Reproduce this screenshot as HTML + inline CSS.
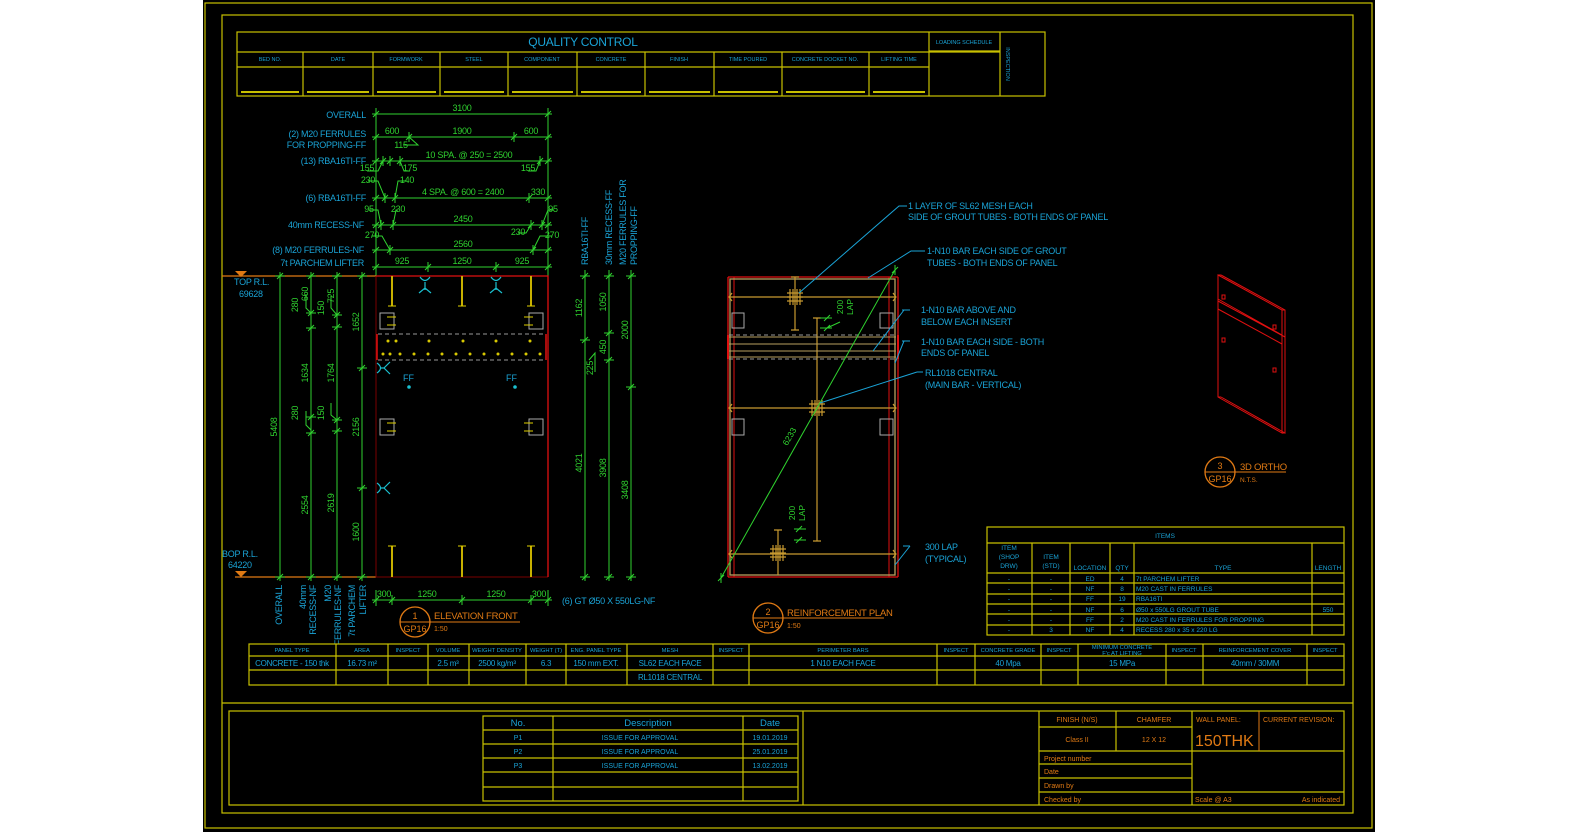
<!DOCTYPE html>
<html><head><meta charset="utf-8"><style>
html,body{margin:0;padding:0;background:#fff}
svg{display:block}
text{font-family:"Liberation Sans",sans-serif}
.c{fill:#1aa3d6}.g{fill:#2fd22f}.o{fill:#e07a14}.y{fill:#d0c800}
.n{letter-spacing:-0.25px}
</style></head><body>
<svg width="1579" height="836" viewBox="0 0 1579 836" xmlns="http://www.w3.org/2000/svg">
<defs>
<g id="t" stroke="#2fd22f" stroke-width="1"><path d="M-3 3L3-3M0-5V5"/></g>
<g id="th" stroke="#2fd22f" stroke-width="1"><path d="M-3 3L3-3M-5 0H5"/></g>
</defs>
<rect x="203" y="0" width="1172" height="832" fill="#000"/>
<g fill="none" stroke="#c8c000" stroke-width="1.2">
<rect x="205" y="3" width="1167" height="825"/>
<rect x="222" y="15" width="1131" height="798"/>
<rect x="237" y="32" width="808" height="64"/>
<path d="M237 52H1000M237 67H929M929 51H1000"/>
<path d="M303 52V96M373 52V96M440 52V96M508 52V96M577 52V96M645 52V96M714 52V96M782 52V96M869 52V96M929 32V96M1000 32V96"/>
<path d="M241 92H299M307 92H369M377 92H436M444 92H504M512 92H573M581 92H641M649 92H710M718 92H778M786 92H865M873 92H925" stroke-width="2"/>
</g>
<text x="583" y="46" class="c n" font-size="12" text-anchor="middle">QUALITY CONTROL</text>
<g class="c" font-size="5.5" text-anchor="middle">
<text x="270" y="61">BED NO.</text><text x="338" y="61">DATE</text><text x="406" y="61">FORMWORK</text><text x="474" y="61">STEEL</text><text x="542" y="61">COMPONENT</text><text x="611" y="61">CONCRETE</text><text x="679" y="61">FINISH</text><text x="748" y="61">TIME POURED</text><text x="825" y="61">CONCRETE DOCKET NO.</text><text x="899" y="61">LIFTING TIME</text><text x="964" y="44">LOADING SCHEDULE</text>
<text transform="translate(1006,64) rotate(90)">INSPECTION</text>
</g>

<g stroke="#2fd22f" stroke-width="1" fill="none">
<path d="M372 114H552M372 137H552M372 161H552M372 198H552M372 225H552M372 250H552M372 267H552"/>
<path d="M376 108V280M548 108V280"/>
<path d="M403 145H418L409 137M367 171H378L383 161M410 171H404L400 161M528 171H536L540 161M368 181H378L385 198M407 181H398L395 198M369 210H378L381 225M398 210H396L393 225M518 233H526L531 225M554 210H548L542 225M372 236H382L390 250M552 236H540L533 250"/>
</g>
<g>
<use href="#t" x="376" y="114"/><use href="#t" x="548" y="114"/>
<use href="#t" x="376" y="137"/><use href="#t" x="409" y="137"/><use href="#t" x="514" y="137"/><use href="#t" x="548" y="137"/>
<use href="#t" x="376" y="161"/><use href="#t" x="383" y="161"/><use href="#t" x="390" y="161"/><use href="#t" x="400" y="161"/><use href="#t" x="540" y="161"/><use href="#t" x="548" y="161"/>
<use href="#t" x="376" y="198"/><use href="#t" x="385" y="198"/><use href="#t" x="395" y="198"/><use href="#t" x="529" y="198"/><use href="#t" x="548" y="198"/>
<use href="#t" x="376" y="225"/><use href="#t" x="381" y="225"/><use href="#t" x="393" y="225"/><use href="#t" x="531" y="225"/><use href="#t" x="542" y="225"/><use href="#t" x="548" y="225"/>
<use href="#t" x="376" y="250"/><use href="#t" x="390" y="250"/><use href="#t" x="533" y="250"/><use href="#t" x="548" y="250"/>
<use href="#t" x="376" y="267"/><use href="#t" x="428" y="267"/><use href="#t" x="496" y="267"/><use href="#t" x="548" y="267"/>
</g>
<g class="g n" font-size="9" text-anchor="middle">
<text x="462" y="111">3100</text>
<text x="392" y="134">600</text><text x="462" y="134">1900</text><text x="531" y="134">600</text><text x="401" y="148">115</text>
<text x="469" y="158">10 SPA. @ 250 = 2500</text><text x="367" y="171">155</text><text x="410" y="171">175</text><text x="528" y="171">155</text>
<text x="368" y="183">230</text><text x="407" y="183">140</text><text x="463" y="195">4 SPA. @ 600 = 2400</text><text x="538" y="195">330</text>
<text x="369" y="212">95</text><text x="398" y="212">230</text><text x="463" y="222">2450</text><text x="518" y="235">230</text><text x="553" y="212">95</text>
<text x="372" y="238">270</text><text x="463" y="247">2560</text><text x="552" y="238">270</text>
<text x="402" y="264">925</text><text x="462" y="264">1250</text><text x="522" y="264">925</text>
</g>
<g class="c n" font-size="9" text-anchor="end">
<text x="366" y="118">OVERALL</text><text x="366" y="137">(2) M20 FERRULES</text><text x="366" y="148">FOR PROPPING-FF</text>
<text x="366" y="164">(13) RBA16TI-FF</text><text x="366" y="201">(6) RBA16TI-FF</text><text x="364" y="228">40mm  RECESS-NF</text>
<text x="364" y="253">(8) M20 FERRULES-NF</text><text x="364" y="266">7t PARCHEM LIFTER</text>
</g>

<path d="M222 276H376M235 577H376" stroke="#e07a14" stroke-width="1.3"/>
<path d="M235 271H247L241 277Z M235 571H247L241 577Z" fill="#e07a14"/>
<g class="c n" font-size="9"><text x="234" y="285">TOP R.L.</text><text x="239" y="297">69628</text><text x="222" y="557">BOP R.L.</text><text x="228" y="568">64220</text></g>

<g stroke="#2fd22f" fill="none">
<path d="M280 272V581M311 272V581M337 272V581M362 272V581"/>
<path d="M306 294V308L311 313M306 411V425L311 430M331 296V308L337 315M331 403V415L337 420"/>
</g>
<g>
<use href="#th" x="280" y="276"/><use href="#th" x="280" y="577"/>
<use href="#th" x="311" y="276"/><use href="#th" x="311" y="313"/><use href="#th" x="311" y="328"/><use href="#th" x="311" y="417"/><use href="#th" x="311" y="433"/><use href="#th" x="311" y="577"/>
<use href="#th" x="337" y="276"/><use href="#th" x="337" y="315"/><use href="#th" x="337" y="327"/><use href="#th" x="337" y="420"/><use href="#th" x="337" y="431"/><use href="#th" x="337" y="577"/>
<use href="#th" x="362" y="276"/><use href="#th" x="362" y="368"/><use href="#th" x="362" y="488"/><use href="#th" x="362" y="577"/>
</g>
<g class="g n" font-size="9" text-anchor="middle">
<text transform="translate(277,427) rotate(-90)">5408</text>
<text transform="translate(298,305) rotate(-90)">280</text><text transform="translate(308,294) rotate(-90)">660</text>
<text transform="translate(308,373) rotate(-90)">1634</text><text transform="translate(298,413) rotate(-90)">280</text><text transform="translate(308,505) rotate(-90)">2554</text>
<text transform="translate(324,308) rotate(-90)">150</text><text transform="translate(334,296) rotate(-90)">725</text>
<text transform="translate(334,373) rotate(-90)">1764</text><text transform="translate(324,413) rotate(-90)">150</text><text transform="translate(334,503) rotate(-90)">2619</text>
<text transform="translate(359,322) rotate(-90)">1652</text><text transform="translate(359,427) rotate(-90)">2156</text><text transform="translate(359,532) rotate(-90)">1600</text>
</g>
<g class="c n" font-size="9" text-anchor="end">
<text transform="translate(282,585) rotate(-90)">OVERALL</text>
<text transform="translate(306,585) rotate(-90)">40mm</text><text transform="translate(316,585) rotate(-90)">RECESS-NF</text>
<text transform="translate(331,585) rotate(-90)">M20</text><text transform="translate(341,585) rotate(-90)">FERRULES-NF</text>
<text transform="translate(355,585) rotate(-90)">7t PARCHEM</text><text transform="translate(366,585) rotate(-90)">LIFTER</text>
</g>

<path d="M376 276V577H548" stroke="#7a0000" fill="none"/>
<path d="M376 276H548V577" stroke="#e01010" fill="none" stroke-width="1.3"/>
<path d="M377 334V360M546 334V360" stroke="#e01010" stroke-width="1.5"/>
<path d="M378 334H546M378 360H546" stroke="#999" stroke-dasharray="4 3"/>
<g stroke="#c8b000" stroke-width="2"><path d="M392 276V306M462 276V306M531 276V306M392 546V577M462 546V577M531 546V577"/></g>
<g stroke="#e0d000" stroke-width="1"><path d="M388 306H396M458 306H466M527 306H535M388 546H396M458 546H466M527 546H535"/></g>
<g fill="none" stroke="#aaa"><rect x="380" y="313" width="14" height="16"/><rect x="529" y="313" width="14" height="16"/><rect x="380" y="419" width="14" height="16"/><rect x="529" y="419" width="14" height="16"/></g>
<g stroke="#e0d000"><path d="M387 317H396M387 325H396M524 317H533M524 325H533M387 423H396M387 431H396M524 423H533M524 431H533"/></g>
<g fill="#d8c800">
<circle cx="388" cy="341" r="1.5"/><circle cx="396" cy="341" r="1.5"/><circle cx="429" cy="341" r="1.5"/><circle cx="463" cy="341" r="1.5"/><circle cx="496" cy="341" r="1.5"/><circle cx="530" cy="341" r="1.5"/>
<circle cx="383" cy="354" r="1.5"/><circle cx="390" cy="354" r="1.5"/><circle cx="400" cy="354" r="1.5"/><circle cx="414" cy="354" r="1.5"/><circle cx="428" cy="354" r="1.5"/><circle cx="442" cy="354" r="1.5"/><circle cx="456" cy="354" r="1.5"/><circle cx="470" cy="354" r="1.5"/><circle cx="484" cy="354" r="1.5"/><circle cx="498" cy="354" r="1.5"/><circle cx="512" cy="354" r="1.5"/><circle cx="526" cy="354" r="1.5"/><circle cx="540" cy="354" r="1.5"/>
</g>
<g stroke="#1ac0d0" fill="none" stroke-width="1.2">
<path d="M420 277Q425 284 430 277M425 282V290M419 293L425 288L431 293"/>
<path d="M491 277Q496 284 501 277M496 282V290M490 293L496 288L502 293"/>
<path d="M377 363Q384 368 377 373M381 368H384M390 362L384 368L390 374"/>
<path d="M377 483Q384 488 377 493M381 488H384M390 482L384 488L390 494"/>
</g>
<g class="c" font-size="9"><text x="403" y="381">FF</text><text x="506" y="381">FF</text></g>
<circle cx="409" cy="387" r="1.8" fill="#1ac0d0"/><circle cx="515" cy="387" r="1.8" fill="#1ac0d0"/>

<path d="M372 600H552M376 590V606M548 590V606M462 596V604" stroke="#2fd22f" fill="none"/>
<use href="#t" x="376" y="600"/><use href="#t" x="392" y="600"/><use href="#t" x="462" y="600"/><use href="#t" x="531" y="600"/><use href="#t" x="548" y="600"/>
<g class="g n" font-size="9" text-anchor="middle"><text x="384" y="597">300</text><text x="427" y="597">1250</text><text x="496" y="597">1250</text><text x="539" y="597">300</text></g>
<text x="562" y="604" class="c n" font-size="9">(6) GT Ø50 X 550LG-NF</text>

<g stroke="#2fd22f" fill="none"><path d="M585 270V581M609 270V581M631 270V581M589 360L595 353V372"/></g>
<use href="#th" x="585" y="276"/><use href="#th" x="585" y="340"/><use href="#th" x="585" y="577"/>
<use href="#th" x="609" y="276"/><use href="#th" x="609" y="333"/><use href="#th" x="609" y="360"/><use href="#th" x="609" y="577"/>
<use href="#th" x="631" y="276"/><use href="#th" x="631" y="387"/><use href="#th" x="631" y="577"/>
<g class="g n" font-size="9" text-anchor="middle">
<text transform="translate(582,308) rotate(-90)">1162</text><text transform="translate(582,463) rotate(-90)">4021</text><text transform="translate(593,368) rotate(-90)">225</text>
<text transform="translate(606,302) rotate(-90)">1050</text><text transform="translate(606,347) rotate(-90)">450</text><text transform="translate(606,468) rotate(-90)">3908</text>
<text transform="translate(628,330) rotate(-90)">2000</text><text transform="translate(628,490) rotate(-90)">3408</text>
</g>
<g class="c n" font-size="9">
<text transform="translate(588,265) rotate(-90)">RBA16TI-FF</text>
<text transform="translate(612,265) rotate(-90)">30mm RECESS-FF</text>
<text transform="translate(626,265) rotate(-90)">M20 FERRULES FOR</text>
<text transform="translate(637,265) rotate(-90)">PROPPING-FF</text>
</g>

<circle cx="415" cy="622" r="15" fill="none" stroke="#e07a14" stroke-width="1.3"/>
<path d="M400 622H520" stroke="#e07a14"/>
<text x="415" y="619" class="o" font-size="9" text-anchor="middle">1</text>
<text x="415" y="632" class="o" font-size="9" text-anchor="middle">GP16</text>
<text x="434" y="619" class="o n" font-size="9.5">ELEVATION FRONT</text>
<text x="434" y="631" class="o" font-size="7">1:50</text>

<path d="M728 277H898M728 277V577M898 277V577M728 577H898" stroke="#e01010" fill="none" stroke-width="1.3"/>
<path d="M734 277V577M889 277V577" stroke="#e01010" fill="none"/>
<rect x="730" y="279" width="165" height="296" fill="none" stroke="#b8a060" stroke-width="1.3"/>
<g stroke="#c89a30" fill="none" stroke-width="1.2">
<path d="M729 297H896M729 408H896M729 554H896"/>
<path d="M732 293L729 297L732 301M893 293L896 297L893 301M732 404L729 408L732 412M893 404L896 408L893 412M732 550L729 554L732 558M893 550L896 554L893 558"/>
<path d="M817 318V541M813 318H821M813 541H821M795 277V330M791 277H799M791 330H799M778 530V575M774 530H782"/>
<path d="M787 293H803M787 297H803M787 301H803M790 289V305M793 289V305M797 289V305M800 289V305"/>
<path d="M809 404H825M809 408H825M809 412H825M812 400V416M815 400V416M819 400V416M822 400V416"/>
<path d="M770 549H786M770 553H786M770 557H786M773 545V561M776 545V561M780 545V561M783 545V561"/>
</g>
<path d="M729 337H896M729 344H896M729 351H896M729 357H896" stroke="#b8a060"/>
<path d="M729 335H896M729 359H896" stroke="#999" stroke-dasharray="4 3"/>
<path d="M728 335V359M898 335V359" stroke="#e01010" stroke-width="2"/>
<g fill="none" stroke="#aaa"><rect x="732" y="313" width="12" height="15"/><rect x="880" y="313" width="13" height="15"/><rect x="732" y="419" width="12" height="16"/><rect x="880" y="419" width="13" height="16"/></g>
<path d="M721 578L895 270" stroke="#2fd22f"/>
<use href="#t" x="721" y="578"/><use href="#t" x="895" y="270"/>
<text transform="translate(792,438) rotate(-60)" class="g" font-size="8.5" text-anchor="middle">6233</text>
<g stroke="#2fd22f" fill="none"><path d="M820 318H830M820 328H830M827 328L840 322M796 529H806M796 540H806"/></g>
<use href="#th" x="827" y="318"/><use href="#th" x="827" y="328"/><use href="#th" x="799" y="529"/><use href="#th" x="799" y="540"/>
<g class="g" font-size="8.5" text-anchor="middle">
<text transform="translate(843,307) rotate(-90)">200</text><text transform="translate(853,307) rotate(-90)">LAP</text>
<text transform="translate(795,513) rotate(-90)">200</text><text transform="translate(805,513) rotate(-90)">LAP</text>
</g>
<g stroke="#1aa3d6" fill="none">
<path d="M907 206H899L799 293M925 251H911L868 278M904 310L873 351M904 341L895 363M917 372L820 403M910 546L895 565"/>
<path d="M902 341H910M902 310H910M917 372H923M903 546H910"/>
</g>
<g class="c n" font-size="9">
<text x="908" y="209">1 LAYER OF SL62 MESH EACH</text><text x="908" y="220">SIDE OF GROUT TUBES - BOTH ENDS OF PANEL</text>
<text x="927" y="254">1-N10 BAR EACH SIDE OF GROUT</text><text x="927" y="266">TUBES - BOTH ENDS OF PANEL</text>
<text x="921" y="313">1-N10 BAR ABOVE AND</text><text x="921" y="325">BELOW EACH INSERT</text>
<text x="921" y="345">1-N10 BAR EACH SIDE - BOTH</text><text x="921" y="356">ENDS OF PANEL</text>
<text x="925" y="376">RL1018 CENTRAL</text><text x="925" y="388">(MAIN BAR - VERTICAL)</text>
<text x="925" y="550">300 LAP</text><text x="925" y="562">(TYPICAL)</text>
</g>
<circle cx="768" cy="618" r="15" fill="none" stroke="#e07a14" stroke-width="1.3"/>
<path d="M753 618H884" stroke="#e07a14"/>
<text x="768" y="615" class="o" font-size="9" text-anchor="middle">2</text>
<text x="768" y="628" class="o" font-size="9" text-anchor="middle">GP16</text>
<text x="787" y="616" class="o n" font-size="9.5">REINFORCEMENT PLAN</text>
<text x="787" y="628" class="o" font-size="7">1:50</text>

<g stroke="#e01010" fill="none" stroke-width="1">
<path d="M1218 275L1282 310V433L1218 397Z"/>
<path d="M1221 275L1285 310V433L1221 397M1218 275H1221M1282 310H1285M1282 433H1285M1218 397H1221"/>
<path d="M1218 299L1282 335M1218 309L1282 344M1218 301L1285 337"/>
<rect x="1222" y="295" width="3" height="4"/><rect x="1273" y="325" width="3" height="4"/><rect x="1222" y="338" width="3" height="4"/><rect x="1273" y="368" width="3" height="4"/>
</g>
<circle cx="1220" cy="472" r="15" fill="none" stroke="#e07a14" stroke-width="1.3"/>
<path d="M1205 472H1286" stroke="#e07a14"/>
<text x="1220" y="469" class="o" font-size="9" text-anchor="middle">3</text>
<text x="1220" y="482" class="o" font-size="9" text-anchor="middle">GP16</text>
<text x="1240" y="470" class="o n" font-size="9.5">3D ORTHO</text>
<text x="1240" y="482" class="o" font-size="6.5">N.T.S.</text>

<g fill="none" stroke="#c8c000" stroke-width="1.2">
<rect x="987" y="527" width="357" height="108"/>
<path d="M987 543H1344M987 573H1344M987 583H1344M987 594H1344M987 604H1344M987 614H1344M987 625H1344"/>
<path d="M1032 543V635M1070 543V635M1110 543V635M1134 543V635M1312 543V635"/>
</g>
<g class="c" font-size="6.5" text-anchor="middle">
<text x="1165" y="538">ITEMS</text>
<text x="1009" y="550">ITEM</text><text x="1009" y="559">(SHOP</text><text x="1009" y="568">DRW)</text>
<text x="1051" y="559">ITEM</text><text x="1051" y="568">(STD)</text>
<text x="1090" y="570">LOCATION</text><text x="1122" y="570">QTY</text><text x="1223" y="570">TYPE</text><text x="1328" y="570">LENGTH</text>
<text x="1009" y="581">-</text><text x="1051" y="581">-</text><text x="1090" y="581">ED</text><text x="1122" y="581">4</text>
<text x="1009" y="591">-</text><text x="1051" y="591">-</text><text x="1090" y="591">NF</text><text x="1122" y="591">8</text>
<text x="1009" y="601">-</text><text x="1051" y="601">-</text><text x="1090" y="601">FF</text><text x="1122" y="601">19</text>
<text x="1009" y="612">-</text><text x="1051" y="612">-</text><text x="1090" y="612">NF</text><text x="1122" y="612">6</text><text x="1328" y="612">550</text>
<text x="1009" y="622">-</text><text x="1051" y="622">-</text><text x="1090" y="622">FF</text><text x="1122" y="622">2</text>
<text x="1009" y="632">-</text><text x="1051" y="632">3</text><text x="1090" y="632">NF</text><text x="1122" y="632">4</text>
</g>
<g class="c" font-size="6.5">
<text x="1136" y="581">7t PARCHEM LIFTER</text><text x="1136" y="591">M20 CAST IN FERRULES</text><text x="1136" y="601">RBA16TI</text>
<text x="1136" y="612">Ø50 x 550LG GROUT TUBE</text><text x="1136" y="622">M20 CAST IN FERRULES FOR PROPPING</text><text x="1136" y="632">RECESS 280 x 35 x 220 LG</text>
</g>

<g fill="none" stroke="#c8c000" stroke-width="1.2">
<rect x="249" y="644" width="1095" height="41"/>
<path d="M249 656H1344M249 670H1344"/>
<path d="M336 644V685M388 644V685M428 644V685M469 644V685M526 644V685M566 644V685M627 644V685M713 644V685M749 644V685M937 644V685M975 644V685M1041 644V685M1078 644V685M1166 644V685M1203 644V685M1307 644V685"/>
</g>
<g class="c" font-size="5.8" text-anchor="middle">
<text x="292" y="652">PANEL TYPE</text><text x="362" y="652">AREA</text><text x="408" y="652">INSPECT</text><text x="448" y="652">VOLUME</text><text x="497" y="652">WEIGHT DENSITY</text><text x="546" y="652">WEIGHT (T)</text><text x="596" y="652">ENG. PANEL TYPE</text><text x="670" y="652">MESH</text><text x="731" y="652">INSPECT</text><text x="843" y="652">PERIMETER BARS</text><text x="956" y="652">INSPECT</text><text x="1008" y="652">CONCRETE GRADE</text><text x="1059" y="652">INSPECT</text><text x="1122" y="649">MINIMUM CONCRETE</text><text x="1122" y="655">F'c AT LIFTING</text><text x="1184" y="652">INSPECT</text><text x="1255" y="652">REINFORCEMENT COVER</text><text x="1325" y="652">INSPECT</text>
</g>
<g class="c n" font-size="8" text-anchor="middle">
<text x="292" y="666">CONCRETE - 150 thk</text><text x="362" y="666">16.73 m²</text><text x="448" y="666">2.5 m³</text><text x="497" y="666">2500 kg/m³</text><text x="546" y="666">6.3</text><text x="596" y="666">150 mm EXT.</text><text x="670" y="666">SL62 EACH FACE</text><text x="843" y="666">1 N10 EACH FACE</text><text x="1008" y="666">40  Mpa</text><text x="1122" y="666">15 MPa</text><text x="1255" y="666">40mm / 30MM</text>
<text x="670" y="680">RL1018 CENTRAL</text>
</g>

<g fill="none" stroke="#c8c000" stroke-width="1.2">
<path d="M222 703H1353"/>
<rect x="229" y="711" width="1115" height="94"/>
<path d="M803 711V805"/>
<rect x="483" y="716" width="315" height="85"/>
<path d="M483 730H798M483 744H798M483 758H798M483 772H798M483 787H798M553 716V801M743 716V801"/>
<path d="M1039 711V805M1116 711V751M1192 711V805M1039 727H1192M1039 751H1344M1039 764H1192M1039 778H1192M1039 792H1344"/>
</g>
<path d="M1259 711V751" stroke="#e07a14"/>
<g class="c" font-size="9.5" text-anchor="middle"><text x="518" y="726">No.</text><text x="648" y="726">Description</text><text x="770" y="726">Date</text></g>
<g class="c" font-size="7" text-anchor="middle">
<text x="518" y="740">P1</text><text x="640" y="740">ISSUE FOR APPROVAL</text><text x="770" y="740">19.01.2019</text>
<text x="518" y="754">P2</text><text x="640" y="754">ISSUE FOR APPROVAL</text><text x="770" y="754">25.01.2019</text>
<text x="518" y="768">P3</text><text x="640" y="768">ISSUE FOR APPROVAL</text><text x="770" y="768">13.02.2019</text>
</g>
<g class="o" font-size="7">
<text x="1077" y="722" text-anchor="middle">FINISH (N/S)</text><text x="1154" y="722" text-anchor="middle">CHAMFER</text>
<text x="1077" y="742" text-anchor="middle">Class II</text><text x="1154" y="742" text-anchor="middle">12 X 12</text>
<text x="1196" y="722">WALL PANEL:</text><text x="1263" y="722">CURRENT REVISION:</text>
<text x="1044" y="761">Project number</text><text x="1044" y="774">Date</text><text x="1044" y="788">Drawn by</text><text x="1044" y="802">Checked by</text>
<text x="1195" y="802">Scale @ A3</text><text x="1340" y="802" text-anchor="end">As indicated</text>
</g>
<text x="1195" y="746" class="o" font-size="16">150THK</text>
</svg>
</body></html>
